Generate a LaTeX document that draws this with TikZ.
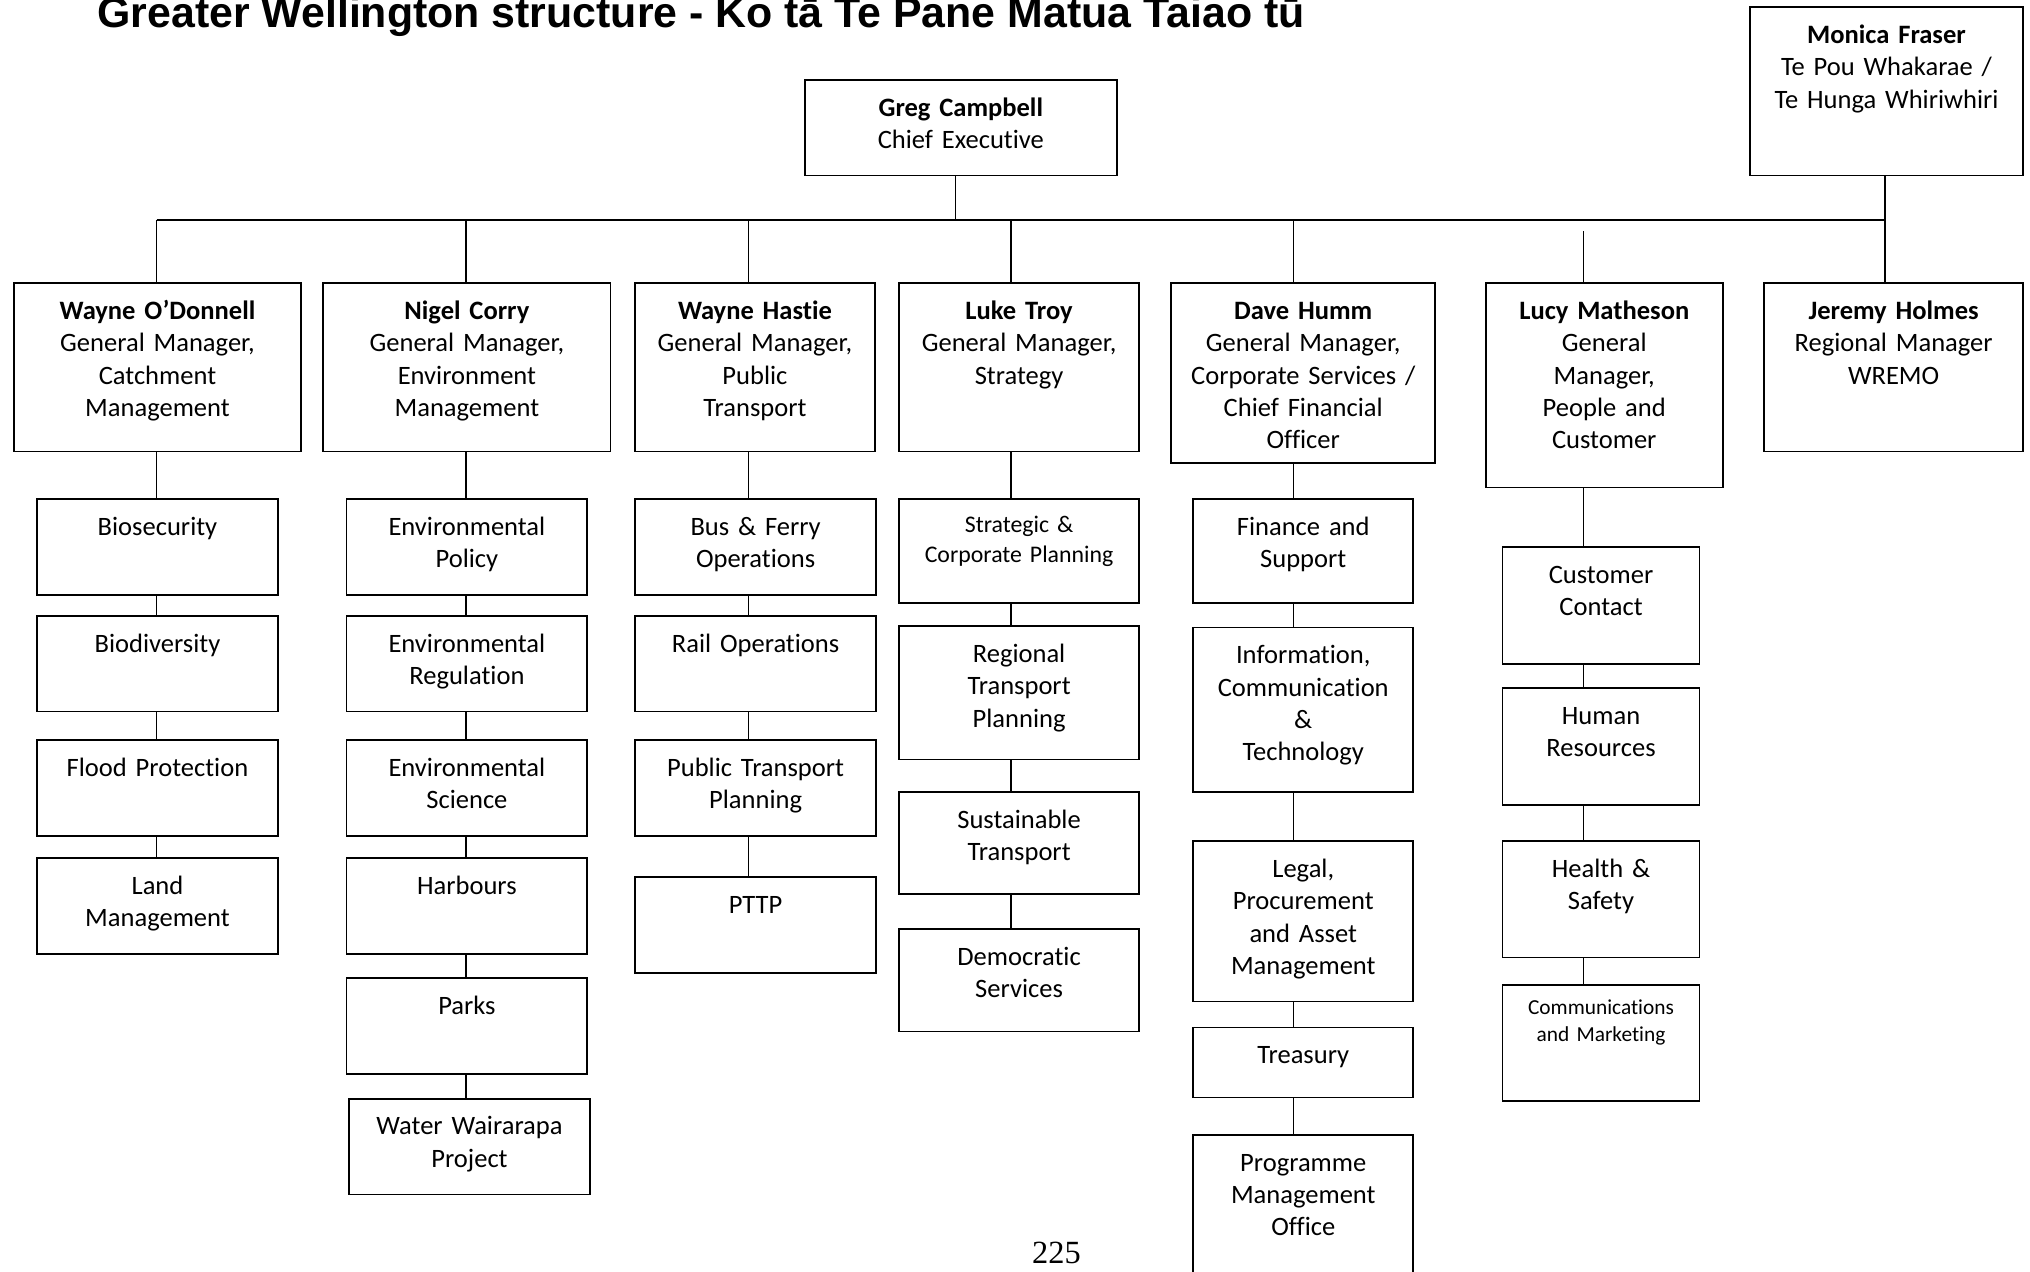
\documentclass[tikz,border=0pt]{standalone}
\usepackage{fontspec}
\setmainfont{Carlito}[Ligatures=CommonOff]
\newfontfamily\titlefont{Liberation Sans}
\newfontfamily\pagefont{Liberation Serif}

\begin{document}
\begin{tikzpicture}[
        x=1pt, y=-1pt,
        unit/.style={draw, line width=1.3pt, anchor=north west, inner sep=0pt,
            align=center, font=\fontsize{20.5}{25}\selectfont,
            text height=28pt, text depth={#1pt-28pt}},
        link/.style={line width=1pt},
    ]
    \clip (0,0) rectangle (1568,982);

    % Title and page number
    \node[anchor=base west, inner sep=0pt, font=\titlefont\bfseries\fontsize{33.1}{36}\selectfont] (title) at (75,21.5)
        {Greater Wellington structure - Ko tā Te Pane Matua Taiao tū};
    \node[anchor=base, inner sep=0pt, font=\pagefont\fontsize{25}{28}\selectfont] (page) at (816,976) {225};

    % Chief Executive and Te Pou Whakarae
    \node[unit=74, text width=241pt] (gca) at (621,61) {\textbf{Greg Campbell}\\Chief Executive};
    \node[unit=130, text width=211pt] (mfr) at (1351,5) {\textbf{Monica Fraser}\\Te Pou Whakarae /\\Te Hunga Whiriwhiri};

    % General managers
    \node[unit=130, text width=222pt] (wod) at (10,218) {\textbf{Wayne O’Donnell}\\General Manager,\\Catchment\\Management};
    \node[unit=130, text width=222pt] (nco) at (249,218) {\textbf{Nigel Corry}\\General Manager,\\Environment\\Management};
    \node[unit=130, text width=185pt] (wha) at (490,218) {\textbf{Wayne Hastie}\\General Manager,\\Public\\Transport};
    \node[unit=130, text width=185pt] (ltr) at (694,218) {\textbf{Luke Troy}\\General Manager,\\Strategy};
    \node[unit=139, text width=204pt] (dhu) at (904,218) {\textbf{Dave Humm}\\General Manager,\\Corporate Services /\\Chief Financial\\Officer};
    \node[unit=158, text width=183pt] (lma) at (1147,218) {\textbf{Lucy Matheson}\\General\\Manager,\\People and\\Customer};
    \node[unit=130, text width=200pt] (jho) at (1362,218) {\textbf{Jeremy Holmes}\\Regional Manager\\WREMO};

    % Catchment Management units
    \foreach \name/\y/\txt in {bio/385/Biosecurity, div/475/Biodiversity, fld/571/Flood Protection, lnd/662/Land\\Management}
        \node[unit=74, text width=186pt] (\name) at (28,\y) {\txt};

    % Environment Management units
    \foreach \name/\y/\txt in {epo/385/Environmental\\Policy, ere/475/Environmental\\Regulation,
            esc/571/Environmental\\Science, hrb/662/Harbours, prk/755/Parks}
        \node[unit=74, text width=186pt] (\name) at (267,\y) {\txt};
    \node[unit=74, text width=186pt] (wwp) at (269,848) {Water Wairarapa\\Project};

    % Public Transport units
    \foreach \name/\y/\txt in {bfo/385/Bus \& Ferry\\Operations, rop/475/Rail Operations,
            ptp/571/Public Transport\\Planning, pttp/677/PTTP}
        \node[unit=74, text width=186pt] (\name) at (490,\y) {\txt};

    % Strategy units
    \node[unit=80, text width=185pt, font=\fontsize{18.4}{23}\selectfont, text height=25.5pt, text depth=54.5pt] (scp) at (694,385)
        {Strategic \&\\Corporate Planning};
    \foreach \name/\y/\h/\txt in {rtp/483/103/Regional\\Transport\\Planning, stp/611/79/Sustainable\\Transport,
            dsv/717/79/Democratic\\Services}
        \node[unit=\h, text width=185pt] (\name) at (694,\y) {\txt};

    % Corporate Services units
    \foreach \name/\y/\h/\txt in {fas/385/80/Finance and\\Support, ict/484/127/{Information,\\Communication\\\&\\Technology},
            lpa/649/124/{Legal,\\Procurement\\and Asset\\Management}, tre/793/54/Treasury,
            pmo/876/130/Programme\\Management\\Office}
        \node[unit=\h, text width=170pt] (\name) at (921,\y) {\txt};

    % People and Customer units
    \foreach \name/\y/\txt in {ccn/422/Customer\\Contact, hre/531/Human\\Resources, hsa/649/Health \&\\Safety}
        \node[unit=90, text width=152pt] (\name) at (1160,\y) {\txt};
    \node[unit=90, text width=152pt, font=\fontsize{16.5}{21}\selectfont, text height=23pt, text depth=67pt] (cma) at (1160,760)
        {Communications\\and Marketing};

    % Connect the chief executive with the general managers
    \coordinate (hub) at (738,170);
    \foreach \i/\x in {1/121, 2/360, 3/578, 4/781, 5/999, 7/1456}
        \coordinate (bar-\i) at (\x,170);
    \coordinate (bar-6) at (1223,178.5);
    \draw[link] (gca.south -| hub) -- (hub);
    \draw[link] (bar-1) -- (bar-7);
    \draw[link] (mfr.south -| bar-7) -- (bar-7);
    \foreach \i/\name in {1/wod, 2/nco, 3/wha, 4/ltr, 5/dhu, 6/lma, 7/jho}
        \draw[link] (bar-\i) -- (\name.north -| bar-\i);

    % Connect every general manager with the units below
    \foreach \i/\a/\b in {1/wod/bio, 1/bio/div, 1/div/fld, 1/fld/lnd,
            2/nco/epo, 2/epo/ere, 2/ere/esc, 2/esc/hrb, 2/hrb/prk, 2/prk/wwp,
            3/wha/bfo, 3/bfo/rop, 3/rop/ptp, 3/ptp/pttp,
            4/ltr/scp, 4/scp/rtp, 4/rtp/stp, 4/stp/dsv,
            5/dhu/fas, 5/fas/ict, 5/ict/lpa, 5/lpa/tre, 5/tre/pmo,
            6/lma/ccn, 6/ccn/hre, 6/hre/hsa, 6/hsa/cma}
        \draw[link] (\a.south -| bar-\i) -- (\b.north -| bar-\i);
\end{tikzpicture}
\end{document}
